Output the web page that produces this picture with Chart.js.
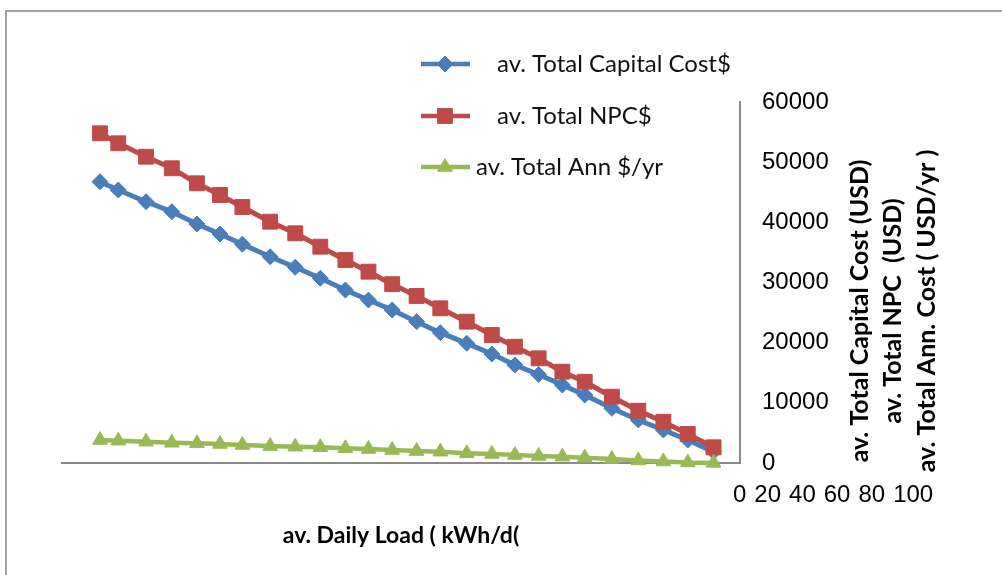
<!DOCTYPE html>
<html>
<head>
<meta charset="utf-8">
<script src="https://cdn.jsdelivr.net/npm/chart.js@4"></script>
<style>
  html, body { margin: 0; padding: 0; background: #fff; overflow: hidden; }
  #wrap { position: relative; width: 1002px; height: 575px; }
</style>
</head>
<body>
<div id="wrap"><canvas id="costChart"></canvas></div>
<script>
// daily load (kWh/d) of each point
const dailyLoad = [5.6, 8.3, 12.4, 16.2, 19.9, 23.3, 26.6, 30.7, 34.4, 38.1, 41.8, 45.2, 48.7,
                   52.3, 55.8, 59.7, 63.4, 66.8, 70.3, 73.8, 77.1, 81.1, 85.0, 88.7, 92.3, 96.1];
const capitalCost = [46750, 45370, 43430, 41770, 39720, 38060, 36370, 34290, 32530, 30700, 28750, 27090, 25430,
                     23490, 21660, 19890, 18120, 16290, 14710, 12960, 11300, 9090, 7150, 5480, 3820, 1880];
const totalNPC = [54800, 53140, 50910, 48980, 46490, 44540, 42550, 40110, 38180, 35950, 33740, 31800, 29720,
                  27760, 25710, 23490, 21270, 19330, 17400, 15180, 13510, 11020, 8690, 6860, 4820, 2610];
const annCost = [3820, 3710, 3540, 3370, 3270, 3160, 2990, 2830, 2710, 2610, 2440, 2330, 2160,
                 1990, 1880, 1610, 1500, 1330, 1160, 1050, 880, 650, 420, 250, 90, 20];

const seriesNames = ['av. Total Capital Cost$', 'av. Total NPC$', 'av. Total Ann $/yr'];
const yTicks = [0, 10000, 20000, 30000, 40000, 50000, 60000];
const xTicks = [0, 20, 40, 60, 80, 100];
const xTitle = 'av. Daily Load ( kWh/d(';
const yTitles = ['av. Total Capital Cost (USD)', 'av. Total NPC  (USD)', 'av. Total Ann. Cost ( USD/yr )'];

function toPoints(values) {
    return values.map((v, i) => ({ x: dailyLoad[i], y: v }));
}

// legend, stacked axis titles and the stray 0..100 labels, drawn like in the excel export
const extraText = {
    id: 'extraText',
    beforeDraw(chart) {
        const ctx = chart.ctx;
        ctx.save();
        ctx.strokeStyle = '#a3a3a3';
        ctx.lineWidth = 2;
        ctx.strokeRect(6, 11, 1100, 700);
        ctx.restore();
    },
    afterDraw(chart) {
        const ctx = chart.ctx;
        const legendY = [64, 116, 167];
        const textX = [497, 497, 476];
        ctx.save();
        chart.data.datasets.forEach((ds, i) => {
            ctx.strokeStyle = ds.borderColor;
            ctx.fillStyle = ds.backgroundColor;
            ctx.lineWidth = 4.5;
            ctx.beginPath();
            ctx.moveTo(421, legendY[i]);
            ctx.lineTo(470, legendY[i]);
            ctx.stroke();
            ctx.lineWidth = 1;
            Chart.helpers.drawPoint(ctx, { pointStyle: ds.pointStyle, radius: ds.pointRadius, borderWidth: 1, rotation: 0 }, 445, legendY[i]);
            ctx.fillStyle = '#111';
            ctx.font = '24px Lato';
            ctx.textAlign = 'left';
            ctx.textBaseline = 'middle';
            ctx.fillText(ds.label, textX[i], legendY[i]);
        });

        // y titles, three rotated lines
        const yScale = chart.scales.y;
        const midY = 311;
        const colX = [860, 893, 927];
        ctx.font = 'bold 25px Lato';
        ctx.fillStyle = '#000';
        ctx.textAlign = 'center';
        ctx.textBaseline = 'middle';
        yTitles.forEach((t, i) => {
            ctx.save();
            ctx.translate(colX[i], midY);
            ctx.rotate(-Math.PI / 2);
            ctx.fillText(t, 0, 0);
            ctx.restore();
        });

        // x tick labels that ended up beside the value axis
        ctx.font = '24px "Liberation Sans", Arial';
        ctx.textAlign = 'left';
        let cx = yScale.left - 7;
        xTicks.forEach(v => {
            const s = String(v);
            ctx.fillText(s, cx, 495);
            cx += ctx.measureText(s).width + 8;
        });
        ctx.restore();
    }
};

const ctx = document.getElementById('costChart').getContext('2d');
const costChart = new Chart(ctx, {
    type: 'line',
    data: {
        datasets: [
            {
                label: seriesNames[0],
                data: toPoints(capitalCost),
                borderColor: '#4a7ebb',
                backgroundColor: '#4a7ebb',
                borderWidth: 5,
                pointStyle: 'rectRot',
                pointRadius: 8,
                pointBorderWidth: 1,
                order: 3,
                clip: false
            },
            {
                label: seriesNames[1],
                data: toPoints(totalNPC),
                borderColor: '#be4b48',
                backgroundColor: '#be4b48',
                borderWidth: 5,
                pointStyle: 'rect',
                pointRadius: 10.5,
                pointBorderWidth: 1,
                order: 2,
                clip: false
            },
            {
                label: seriesNames[2],
                data: toPoints(annCost),
                borderColor: '#98b954',
                backgroundColor: '#98b954',
                borderWidth: 4.5,
                pointStyle: 'triangle',
                pointRadius: 8.5,
                pointBorderWidth: 1,
                order: 1,
                clip: false
            }
        ]
    },
    options: {
        responsive: true,
        maintainAspectRatio: false,
        animation: false,
        layout: {
            padding: { left: 62, top: 102, right: 0, bottom: 0 }
        },
        elements: {
            line: { tension: 0 }
        },
        scales: {
            x: {
                type: 'linear',
                min: 0,
                max: 100,
                grid: { display: false },
                border: { display: true, color: '#8a8a8a', width: 2 },
                ticks: { display: false },
                title: {
                    display: true,
                    text: xTitle,
                    color: '#000',
                    font: { family: 'Lato', size: 23, weight: 'bold' },
                    padding: { top: 0, bottom: 26 }
                },
                afterFit(scale) { scale.height = 112; }
            },
            y: {
                position: 'right',
                min: 0,
                max: 60000,
                grid: { display: false, drawTicks: false },
                border: { display: true, color: '#8a8a8a', width: 2 },
                afterBuildTicks(scale) { scale.ticks = yTicks.map(v => ({ value: v })); },
                ticks: {
                    padding: 22,
                    color: '#000',
                    font: { family: '"Liberation Sans", Arial', size: 24 },
                    callback: v => String(v)
                },
                afterFit(scale) { scale.width = 262; }
            }
        },
        plugins: {
            legend: { display: false },
            tooltip: { enabled: false }
        }
    },
    plugins: [extraText]
});
</script>
</body>
</html>
